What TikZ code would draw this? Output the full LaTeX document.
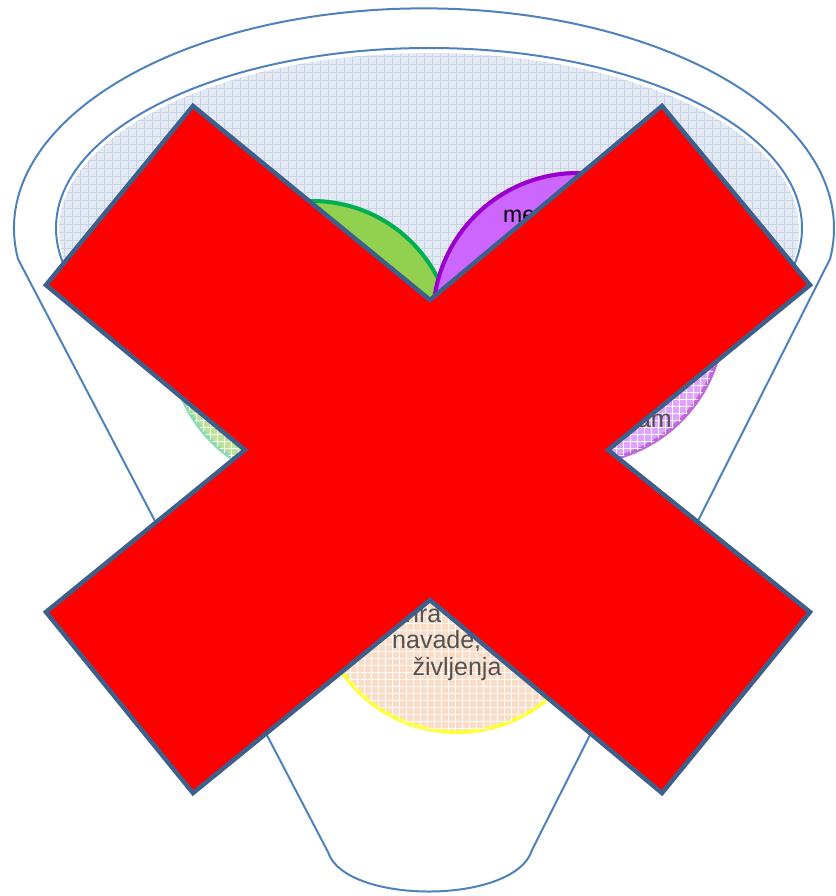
\documentclass[tikz,border=0pt]{standalone}
\usepackage{fontspec}
\setmainfont{Liberation Sans}
\usepackage{tikz}
\usetikzlibrary{patterns.meta}
\definecolor{fBlue}{HTML}{4F81BD}
\definecolor{fSurface}{HTML}{E4EAF4}
\definecolor{fGrid}{HTML}{CAD4E7}
\definecolor{fGreen}{HTML}{92D050}
\definecolor{fGreenDark}{HTML}{00B050}
\definecolor{fPurple}{HTML}{CC66FF}
\definecolor{fPurpleDark}{HTML}{9900CC}
\definecolor{fPeach}{HTML}{FBDCC6}
\definecolor{fYellow}{HTML}{FFFF33}
\definecolor{xRed}{HTML}{FF0000}
\definecolor{xEdge}{HTML}{3E5F8A}
\tikzset{
  glass/.style={postaction={pattern={Hatch[distance=7pt,angle=0,line width=0.8pt]}, pattern color=white}},
  ball/.style={line width=4pt},
  lowtext/.style={inner sep=0pt, text=black!68, font=\fontsize{25}{27}\selectfont},
}

\begin{document}
\begin{tikzpicture}[x=1pt, y=-1pt]
  \useasboundingbox (0,0) rectangle (835,896);
  % funnel
  \draw[fBlue, line width=2pt] (328,852) -- (18,259)
    arc[start angle=172, end angle=368, x radius=410, y radius=220]
    -- (532,850) .. controls (515,905) and (345,905) .. (328,852);
  % surface
  \fill[fSurface, postaction={pattern={Hatch[distance=8pt,angle=0,line width=0.6pt]}, pattern color=fGrid}]
    (429,230) ellipse[x radius=370, y radius=177];
  % balls below the surface
  \filldraw[ball, glass, draw=fGreenDark!45!white, fill=fGreen!60!white] (312,342) circle[radius=141];
  \filldraw[ball, glass, draw=fPurpleDark!60!white, fill=fPurple!60!white] (578,318) circle[radius=145];
  \filldraw[ball, glass, draw=fYellow, fill=fPeach] (457,592) circle[radius=140];
  % balls on the surface
  \begin{scope}
    \clip (429,228) ellipse[x radius=373, y radius=180];
    \filldraw[ball, draw=fGreenDark, fill=fGreen] (312,342) circle[radius=141];
    \filldraw[ball, draw=fPurpleDark, fill=fPurple] (578,318) circle[radius=145];
  \end{scope}
  \draw[fBlue, line width=2pt] (429,228) ellipse[x radius=373, y radius=180];
  % labels
  \node[inner sep=0pt, anchor=base west, font=\fontsize{23}{27}\selectfont] (me) at (503,222) {me};
  \node[lowtext, anchor=base east] (am) at (672,427) {am};
  \node[lowtext, anchor=base west] (hra) at (405,622) {hra};
  \node[lowtext, anchor=base west] (navade) at (392,648) {navade,};
  \node[lowtext, anchor=base] (zivljenja) at (457,675) {življenja};
  % cross
  \filldraw[fill=xRed, draw=xEdge, line width=4.5pt, line join=miter]
    (193,106) -- (430,300) -- (662,106) -- (810,285) -- (608,450) -- (810,612)
    -- (662,793) -- (430,600) -- (193,793) -- (46,612) -- (245,450) -- (46,285) -- cycle;
\end{tikzpicture}
\end{document}
